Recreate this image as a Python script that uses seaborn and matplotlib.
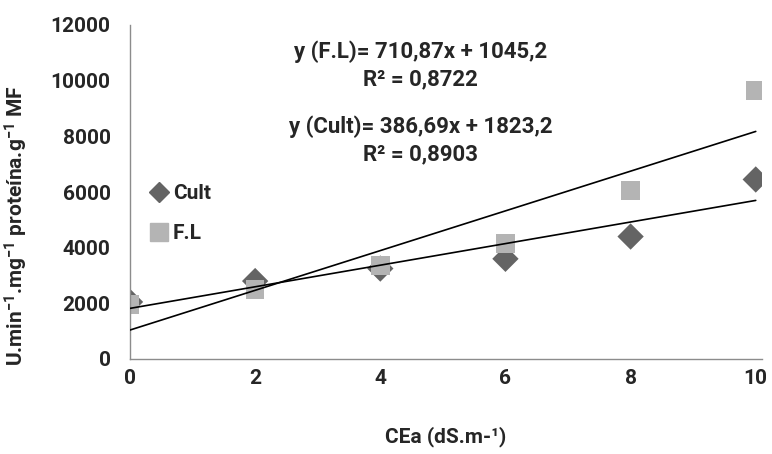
import matplotlib
matplotlib.use("Agg")
import matplotlib.pyplot as plt
import seaborn as sns
import pandas as pd
from matplotlib.lines import Line2D

# Data
cea = [0, 2, 4, 6, 8, 10]
cult = [2050, 2800, 3250, 3600, 4400, 6450]
fl = [1950, 2500, 3350, 4150, 6050, 9650]
series_names = ["Cult", "F.L"]
eq_fl = "y (F.L)= 710,87x + 1045,2"
r2_fl = "R² = 0,8722"
eq_cult = "y (Cult)= 386,69x + 1823,2"
r2_cult = "R² = 0,8903"
y_ticks = [0, 2000, 4000, 6000, 8000, 10000, 12000]
x_ticks = [0, 2, 4, 6, 8, 10]

sns.set_theme(style="white")
plt.rcParams["font.family"] = ["Roboto", "DejaVu Sans"]
plt.rcParams["font.weight"] = "bold"
plt.rcParams["mathtext.fontset"] = "custom"
plt.rcParams["mathtext.rm"] = "Roboto:bold"
plt.rcParams["mathtext.bf"] = "Roboto:bold"
plt.rcParams["mathtext.it"] = "Roboto:bold"

df = pd.DataFrame({
    "CEa": cea * 2,
    "val": cult + fl,
    "serie": [series_names[0]] * len(cea) + [series_names[1]] * len(cea),
})

fig = plt.figure(figsize=(7.72, 4.54), dpi=100)
ax = fig.add_axes([130 / 772, 95 / 454, 632 / 772, 334 / 454])

sns.scatterplot(data=df, x="CEa", y="val", hue="serie", style="serie",
                markers={"Cult": "D", "F.L": "s"},
                palette={"Cult": "#646464", "F.L": "#b4b4b4"},
                s=150, linewidth=0, ax=ax, legend=False, zorder=2)
for coll, size in zip(ax.collections, [180, 330]):
    coll.set_sizes([size])

sns.regplot(x=cea, y=fl, ci=None, scatter=False, truncate=True,
            line_kws={"color": "black", "lw": 1.2, "zorder": 3}, ax=ax)
sns.regplot(x=cea, y=cult, ci=None, scatter=False, truncate=True,
            line_kws={"color": "black", "lw": 1.2, "zorder": 3}, ax=ax)

FS = 15
FA = 16
ax.set_xlim(0, 10.1)
ax.set_ylim(0, 12000)
ax.set_xticks(x_ticks)
ax.set_yticks(y_ticks)
ax.tick_params(axis="both", length=0, labelsize=FS)
ax.tick_params(axis="x", pad=7)
ax.tick_params(axis="y", pad=14)
for lab in ax.get_xticklabels() + ax.get_yticklabels():
    lab.set_fontweight("bold")

for side in ["top", "right"]:
    ax.spines[side].set_visible(False)
for side in ["left", "bottom"]:
    ax.spines[side].set_color("#8c8c8c")
    ax.spines[side].set_linewidth(1)

ax.set_xlabel("CEa (dS.m-¹)", fontsize=FS, fontweight="bold", labelpad=28)
ax.set_ylabel("U.min$^{-1}$.mg$^{-1}$ proteína.g$^{-1}$ MF",
              fontsize=FS, fontweight="bold")
ax.yaxis.set_label_coords(-0.158, 0.40)

ax.text(4.64, 11030, eq_fl, ha="center", va="center", fontsize=FA, fontweight="bold")
ax.text(4.64, 10030, r2_fl, ha="center", va="center", fontsize=FA, fontweight="bold")
ax.text(4.64, 8340, eq_cult, ha="center", va="center", fontsize=FA, fontweight="bold")
ax.text(4.64, 7370, r2_cult, ha="center", va="center", fontsize=FA, fontweight="bold")

handles = [
    Line2D([], [], marker="D", color="#646464", linestyle="none", markersize=10),
    Line2D([], [], marker="s", color="#b4b4b4", linestyle="none", markersize=13),
]
leg = ax.legend(handles, series_names, loc="upper left", bbox_to_anchor=(-0.005, 0.58),
                frameon=False, handletextpad=0.0, labelspacing=1.0, handlelength=1.3,
                prop={"size": FS, "weight": "bold"})

fig.savefig("out.png", dpi=100)
